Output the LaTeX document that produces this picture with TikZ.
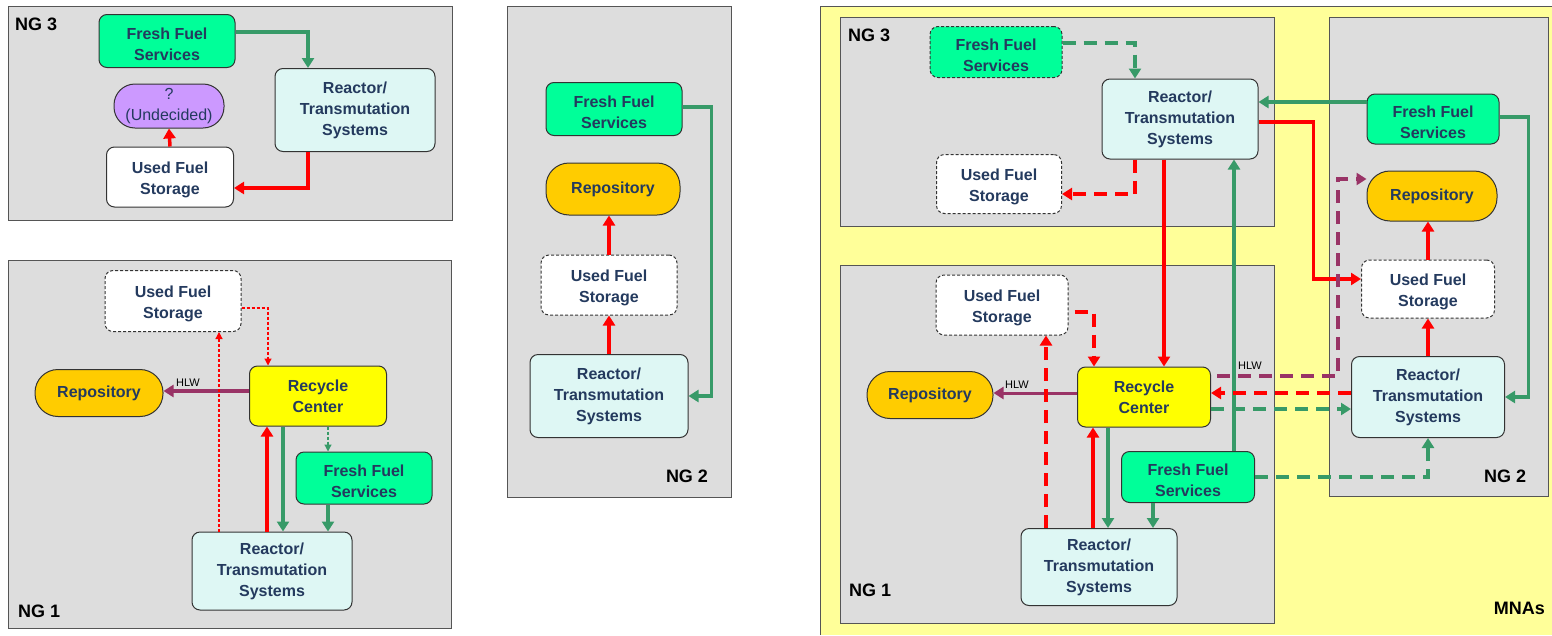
\documentclass[tikz,border=0pt]{standalone}
\usepackage{fontspec}
\setmainfont{Liberation Sans}
\usetikzlibrary{arrows.meta,calc}
\definecolor{panelgray}{HTML}{DDDDDD}
\definecolor{panelborder}{HTML}{555555}
\definecolor{mnayellow}{HTML}{FFFF99}
\definecolor{ffsgreen}{HTML}{00FF99}
\definecolor{rtcyan}{HTML}{DEF7F4}
\definecolor{repoorange}{HTML}{FFCC00}
\definecolor{rcyellow}{HTML}{FFFF00}
\definecolor{undpurple}{HTML}{CC99FF}
\definecolor{txtblue}{HTML}{243A5E}
\definecolor{arrgreen}{HTML}{379A68}
\definecolor{arrred}{HTML}{FF0000}
\definecolor{arrpurple}{HTML}{993366}
\newcommand{\lowstrut}{\rule{0pt}{18pt}}
\tikzset{
  panel/.style={fill=panelgray,draw=panelborder,line width=1pt},
  boxbase/.style={draw=black!80,line width=1pt,rounded corners=8pt,align=center,
    text=txtblue,inner sep=0pt,font=\fontsize{16}{21}\selectfont\bfseries},
  ffs/.style={boxbase,fill=ffsgreen,minimum width=#1},
  rt/.style={boxbase,fill=rtcyan},
  ufs/.style={boxbase,fill=white},
  dbox/.style={dash pattern=on 3pt off 2pt},
  repo/.style={boxbase,fill=repoorange,rounded corners=23pt},
  rc/.style={boxbase,fill=rcyellow},
  und/.style={boxbase,fill=undpurple,rounded corners=21pt,font=\fontsize{16}{21}\selectfont},
  nglabel/.style={font=\fontsize{18}{20}\selectfont\bfseries,text=black,inner sep=0pt},
  hlw/.style={font=\fontsize{11}{12}\selectfont,text=black,inner sep=0pt},
  thick arrow/.style={line width=3.5pt,-{Triangle[width=12pt,length=10pt]}},
  garrow/.style={thick arrow,draw=arrgreen},
  rarrow/.style={thick arrow,draw=arrred},
  parrow/.style={thick arrow,draw=arrpurple},
  longdash/.style={dash pattern=on 13pt off 8pt},
  thindot/.style={line width=1.2pt,dash pattern=on 3pt off 2pt,-{Triangle[width=7pt,length=7pt]}},
}
\begin{document}
\begin{tikzpicture}[x=1pt,y=-1pt]
\useasboundingbox (0,0) rectangle (1552,635);
\fill[white] (0,0) rectangle (1552,635);
% ---------------- left NG3 ----------------
\draw[panel] (8,6) rectangle (452,220);
\node[nglabel,anchor=west] (lngA) at (15,24) {NG 3};
\node[ffs=136pt,minimum height=53pt] (ffsA) at (167,41) {\lowstrut Fresh Fuel\\Services};
\node[rt,minimum width=160pt,minimum height=83pt] (rtA) at (355,110) {Reactor/\\Transmutation\\Systems};
\node[und,minimum width=110pt,minimum height=44pt] (undA) at (169,106) {?\\(Undecided)};
\node[ufs,minimum width=127pt,minimum height=60pt] (ufsA) at (170,177) {\lowstrut Used Fuel\\Storage};
\draw[garrow] ([yshift=9pt]ffsA.east) -| ([xshift=-47pt]rtA.north);
\draw[rarrow] ([xshift=-47pt]rtA.south) |- ([yshift=-11pt]ufsA.east);
\draw[rarrow] (ufsA.north) -- (undA.south);
% ---------------- left NG1 ----------------
\draw[panel] (8,260) rectangle (451,628);
\node[nglabel,anchor=west] (lngB) at (18,611) {NG 1};
\node[ufs,dbox,minimum width=136pt,minimum height=61pt] (ufsB) at (173,301) {\lowstrut Used Fuel\\Storage};
\node[repo,minimum width=128pt,minimum height=47pt] (repoB) at (99,393) {Repository};
\node[rc,minimum width=137pt,minimum height=60pt] (rcB) at (318,396) {Recycle\\Center};
\node[ffs=136pt,minimum height=52pt] (ffsB) at (364,478) {\lowstrut Fresh Fuel\\Services};
\node[rt,minimum width=160pt,minimum height=78pt] (rtB) at (272,571) {Reactor/\\Transmutation\\Systems};
\draw[parrow] ([yshift=5pt]rcB.west) -- ([yshift=2pt]repoB.east);
\node[hlw] (hlwB) at (188,383) {HLW};
\draw[thindot,draw=arrred] ([xshift=-53pt]rtB.north) -- ([xshift=46pt]ufsB.south);
\draw[thindot,draw=arrred] ([yshift=-7pt]ufsB.east) -| ([xshift=-50pt]rcB.north);
\draw[rarrow] ([xshift=-5pt]rtB.north) -- ([xshift=-51pt]rcB.south);
\draw[garrow] ([xshift=-35pt]rcB.south) -- ([xshift=11pt]rtB.north);
\draw[thindot,draw=arrgreen] ([xshift=10pt]rcB.south) -- ([xshift=-36pt]ffsB.north);
\draw[garrow] ([xshift=-36pt]ffsB.south) -- ([xshift=56pt]rtB.north);
% ---------------- middle NG2 ----------------
\draw[panel] (507,6) rectangle (731,497);
\node[nglabel] (lngC) at (687,476) {NG 2};
\node[ffs=136pt,minimum height=53pt] (ffsC) at (614,109) {\lowstrut Fresh Fuel\\Services};
\node[repo,minimum width=134pt,minimum height=52pt] (repoC) at (613,189) {Repository};
\node[ufs,dbox,minimum width=136pt,minimum height=60pt] (ufsC) at (609,285) {\lowstrut Used Fuel\\Storage};
\node[rt,minimum width=158pt,minimum height=83pt] (rtC) at (609,396) {Reactor/\\Transmutation\\Systems};
\draw[garrow] ([yshift=2pt]ffsC.east) -- ++(29,0) |- (rtC.east);
\draw[rarrow] (rtC.north) -- (ufsC.south);
\draw[rarrow] (ufsC.north) -- (ufsC.north |- repoC.south);
% ---------------- MNAs ----------------
\fill[mnayellow] (820,6) rectangle (1552,635);
\draw[panelborder,line width=1pt] (820,635) -- (820,6) -- (1552,6);
\node[nglabel,anchor=east] (lmna) at (1545,608) {MNAs};
% right NG3
\draw[panel] (840,17) rectangle (1274,226);
\node[nglabel,anchor=west] (lngD) at (848,35) {NG 3};
\node[ffs=132pt,dbox,minimum height=51pt] (ffsD) at (996,52) {\lowstrut Fresh Fuel\\Services};
\node[rt,minimum width=156pt,minimum height=80pt] (rtD) at (1180,119) {Reactor/\\Transmutation\\Systems};
\node[ufs,dbox,minimum width=125pt,minimum height=59pt] (ufsD) at (999,184) {\lowstrut Used Fuel\\Storage};
% right NG1
\draw[panel] (840,265) rectangle (1274,623);
\node[nglabel,anchor=west] (lngE) at (849,590) {NG 1};
\node[ufs,dbox,minimum width=132pt,minimum height=60pt] (ufsE) at (1002,305) {\lowstrut Used Fuel\\Storage};
\node[repo,minimum width=126pt,minimum height=47pt] (repoE) at (930,395) {Repository};
\node[rc,minimum width=133pt,minimum height=60pt] (rcE) at (1144,397) {Recycle\\Center};
\node[ffs=133pt,minimum height=51pt] (ffsE) at (1188,477) {\lowstrut Fresh Fuel\\Services};
\node[rt,minimum width=156pt,minimum height=77pt] (rtE) at (1099,567) {Reactor/\\Transmutation\\Systems};
% right NG2
\draw[panel] (1329,17) rectangle (1548,496);
\node[nglabel] (lngF) at (1505,476) {NG 2};
\node[ffs=132pt,minimum height=50pt] (ffsF) at (1433,119) {\lowstrut Fresh Fuel\\Services};
\node[repo,minimum width=130pt,minimum height=50pt] (repoF) at (1432,196) {Repository};
\node[ufs,dbox,minimum width=133pt,minimum height=58pt] (ufsF) at (1428,289) {\lowstrut Used Fuel\\Storage};
\node[rt,minimum width=153pt,minimum height=81pt] (rtF) at (1428,397) {Reactor/\\Transmutation\\Systems};
% NG3 internal
\draw[garrow,longdash] ([yshift=9pt]ffsD.east) -| ([xshift=-45pt]rtD.north);
\draw[rarrow,longdash] ([xshift=-45pt]rtD.south) |- ([yshift=-10pt]ufsD.east);
% NG1 internal
\draw[parrow,line width=3pt] ([yshift=4pt]rcE.west) -- ([yshift=2pt]repoE.east);
\node[hlw] (hlwE) at (1017,385) {HLW};
\draw[rarrow,longdash] ([xshift=-53pt]rtE.north) -- ([xshift=44pt]ufsE.south);
\draw[rarrow,longdash] ([xshift=6pt,yshift=-7pt]ufsE.east) -| ([xshift=-50pt]rcE.north);
\draw[rarrow] ([xshift=-6pt]rtE.north) -- ([xshift=-51pt]rcE.south);
\draw[garrow] ([xshift=-36pt]rcE.south) -- ([xshift=9pt]rtE.north);
\draw[garrow] ([xshift=-35pt]ffsE.south) -- ([xshift=54pt]rtE.north);
% NG2 internal
\draw[garrow] ([yshift=2pt]ffsF.east) -- ++(29,0) |- (rtF.east);
\draw[rarrow] (rtF.north) -- (ufsF.south);
\draw[rarrow] (ufsF.north) -- (ufsF.north |- repoF.south);
% cross-group
\draw[rarrow] ([xshift=-16pt]rtD.south) -- ([xshift=20pt]rcE.north);
\draw[garrow] ([xshift=46pt]ffsE.north) -- ([xshift=54pt]rtD.south);
\draw[rarrow] ([yshift=-3pt]rtD.east) -- ++(55,0) |- ([yshift=10pt]ufsF.west);
\draw[garrow] ([yshift=17pt]ffsF.west) -- ([yshift=17pt]rtD.east);
\draw[parrow,longdash] ([xshift=6pt,yshift=21pt]rcE.east) -- ++(121,0) |- ([yshift=17pt]repoF.west);
\node[hlw] (hlwF) at (1250,366) {HLW};
\draw[rarrow,longdash] ([yshift=4pt]rtF.west) -- ([yshift=4pt]rcE.east);
\draw[garrow,longdash] ([yshift=-12pt]rcE.east) -- ([yshift=-12pt]rtF.west);
\draw[garrow,longdash] (ffsE.east) -| (rtF.south);
\end{tikzpicture}
\end{document}
